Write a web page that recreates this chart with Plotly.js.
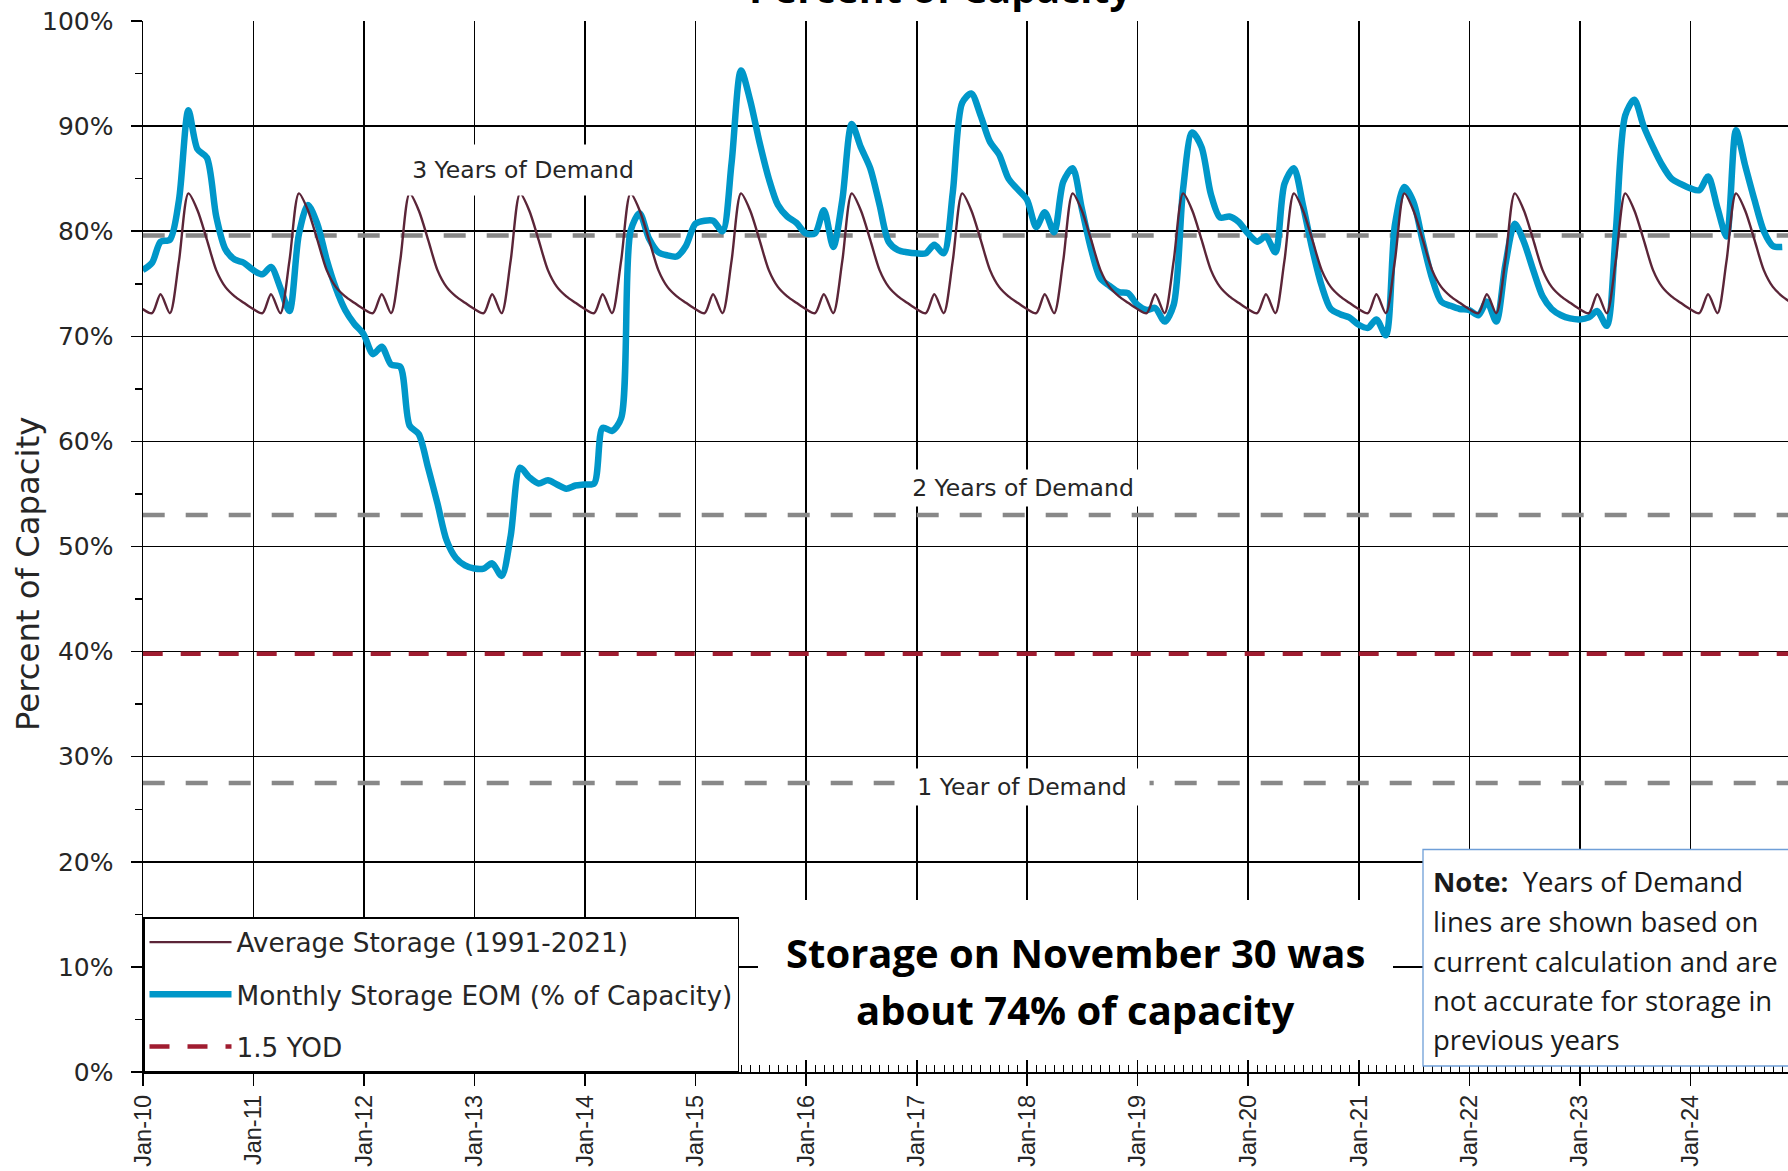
<!DOCTYPE html>
<html>
<head>
<meta charset="utf-8">
<script src="https://cdn.plot.ly/plotly-3.0.1.min.js"></script>
<style>
  html, body { margin: 0; padding: 0; background: #fff; }
  #chart { width: 1788px; height: 1171px; }
</style>
</head>
<body>
<div id="chart"></div>
<script>
// ---------------- DATA ----------------
// Average storage (1991-2021), end-of-month value for Jan..Dec (% of capacity)
const avgMonthLabels = ["Jan","Feb","Mar","Apr","May","Jun","Jul","Aug","Sep","Oct","Nov","Dec"];
const avgByMonth = [72.2, 74.0, 72.2, 77.2, 83.6, 82.0, 79.2, 76.3, 74.7, 73.8, 73.2, 72.6];

// Monthly storage EOM (% of capacity), first value = end of Dec 2009
const storageStart = [2009, 12];
const storage2010 = [76.3, 77.0, 79.0, 79.2, 83.0, 91.5, 87.8, 87.0, 81.4, 78.3, 77.3, 77.0];
const storage2011 = [76.3, 75.9, 76.6, 74.6, 72.4, 79.7, 82.5, 80.7, 77.3, 74.6, 72.5, 71.2];
const storage2012 = [70.2, 68.3, 69.0, 67.3, 67.1, 61.5, 60.7, 57.5, 54.1, 50.6, 48.9, 48.2];
const storage2013 = [47.9, 47.9, 48.4, 47.2, 51.0, 57.5, 56.6, 56.0, 56.3, 55.9, 55.5, 55.8];
const storage2014 = [55.9, 56.0, 61.3, 61.0, 62.2, 80.0, 81.7, 79.3, 78.0, 77.7, 77.6, 78.6];
const storage2015 = [80.7, 81.0, 81.0, 80.0, 86.5, 95.3, 92.5, 88.5, 85.0, 82.5, 81.4, 80.8];
const storage2016 = [79.8, 79.8, 82.0, 78.5, 83.0, 90.2, 88.0, 86.0, 82.5, 79.0, 78.2, 78.0];
const storage2017 = [77.9, 77.9, 78.7, 77.9, 83.7, 92.2, 93.1, 91.0, 88.5, 87.3, 85.0, 84.0];
const storage2018 = [83.0, 80.4, 81.8, 79.9, 84.7, 86.0, 82.2, 78.3, 75.5, 74.8, 74.2, 74.1];
const storage2019 = [73.0, 72.5, 72.7, 71.4, 73.0, 84.0, 89.4, 88.0, 83.5, 81.3, 81.4, 80.9];
const storage2020 = [79.8, 79.0, 79.5, 78.0, 84.5, 86.0, 82.5, 78.3, 74.8, 72.6, 72.1, 71.8];
const storage2021 = [71.1, 70.8, 71.6, 70.1, 80.6, 84.2, 82.8, 79.0, 75.5, 73.3, 72.9, 72.6];
const storage2022 = [72.5, 72.0, 73.3, 71.4, 76.8, 80.7, 79.0, 76.3, 73.8, 72.6, 72.0, 71.7];
const storage2023 = [71.6, 71.8, 72.4, 71.0, 80.0, 91.0, 92.5, 90.0, 88.0, 86.3, 85.0, 84.5];
const storage2024 = [84.1, 83.9, 85.2, 82.2, 79.5, 89.6, 86.3, 83.0, 80.0, 78.6, 78.5];

// Years-of-demand reference levels (% of capacity)
const yod1 = 27.5;
const yod15 = 39.8;
const yod2 = 53.0;
const yod3 = 79.6;

// Axis
const xRange = ["2010-01-01", "2024-11-19"];
const yTickVals = [0, 10, 20, 30, 40, 50, 60, 70, 80, 90, 100];
const yTickText = ["0%", "10%", "20%", "30%", "40%", "50%", "60%", "70%", "80%", "90%", "100%"];

// ---------------- BUILD ----------------
function eom(y, m) { // m: 1..12
  const d = new Date(Date.UTC(y, m, 0));
  return d.toISOString().slice(0, 10);
}
function monthSeq(y, m, n) {
  const out = [];
  for (let i = 0; i < n; i++) {
    out.push(eom(y, m));
    m++; if (m > 12) { m = 1; y++; }
  }
  return out;
}
const storage = [].concat(storage2010, storage2011, storage2012, storage2013, storage2014,
  storage2015, storage2016, storage2017, storage2018, storage2019, storage2020, storage2021,
  storage2022, storage2023, storage2024);
const storageDates = monthSeq(storageStart[0], storageStart[1], storage.length);

const avgDates = monthSeq(2009, 12, 12 * 15 + 1);
const avgVals = avgDates.map(d => avgByMonth[parseInt(d.slice(5, 7), 10) - 1]);

const lineX = [avgDates[0], avgDates[avgDates.length - 1]];

const FONT = "DejaVu Sans";
const TXT = "#262626";

const traces = [
  { x: lineX, y: [yod3, yod3], mode: "lines", showlegend: false, hoverinfo: "skip",
    line: { color: "#888888", width: 4.5, dash: "22px,21px" } },
  { x: lineX, y: [yod2, yod2], mode: "lines", showlegend: false, hoverinfo: "skip",
    line: { color: "#888888", width: 4.5, dash: "22px,21px" } },
  { x: lineX, y: [yod1, yod1], mode: "lines", showlegend: false, hoverinfo: "skip",
    line: { color: "#888888", width: 4.5, dash: "22px,21px" } },
  { x: lineX, y: [yod15, yod15], mode: "lines", name: "1.5 YOD", legendrank: 3, legendgroup: "c",
    line: { color: "#a01c30", width: 4.5, dash: "20px,18px" } },
  { x: storageDates, y: storage, mode: "lines", name: "Monthly Storage EOM (% of Capacity)",
    legendrank: 2, legendgroup: "b",
    line: { color: "#0097c9", width: 6.5, shape: "spline", smoothing: 0.8 } },
  { x: avgDates, y: avgVals, mode: "lines", name: "Average Storage (1991-2021)",
    legendrank: 1, legendgroup: "a",
    line: { color: "#5b2538", width: 2.4, shape: "spline", smoothing: 0.8 } }
];

// plot area in px: left 143, right 1788, top 21, bottom 1072
const PL = 143, PR = 1788, PT = 21, PB = 1072;
const px = v => (v - PL) / (PR - PL);
const py = v => (PB - v) / (PB - PT);

const annotations = [
  // cut-off chart title
  { text: "<b>Percent of Capacity</b>", xref: "paper", yref: "paper", x: px(940), y: py(17),
    xanchor: "center", yanchor: "bottom", showarrow: false,
    font: { family: "Open Sans", size: 39.5, color: "#000" } },
  // y axis title
  { text: "Percent of Capacity", xref: "paper", yref: "paper", x: px(28), y: py(574),
    xanchor: "center", yanchor: "middle", textangle: -90, showarrow: false,
    font: { family: FONT, size: 32.3, color: TXT } },
  { text: "3 Years of Demand", xref: "paper", yref: "paper", x: px(523), y: py(170),
    xanchor: "center", yanchor: "middle", showarrow: false, bgcolor: "#fff", width: 250, height: 48,
    font: { family: FONT, size: 23.5, color: TXT } },
  { text: "2 Years of Demand", xref: "paper", yref: "paper", x: px(1023), y: py(488),
    xanchor: "center", yanchor: "middle", showarrow: false, bgcolor: "#fff", width: 250, height: 34,
    font: { family: FONT, size: 23.5, color: TXT } },
  { text: "1 Year of Demand", xref: "paper", yref: "paper", x: px(1022), y: py(787),
    xanchor: "center", yanchor: "middle", showarrow: false, bgcolor: "#fff", width: 252, height: 34,
    font: { family: FONT, size: 23.5, color: TXT } },
  // central statement
  { text: "<b>Storage on November 30 was</b>", xref: "paper", yref: "paper", x: px(1075), y: py(952),
    xanchor: "center", yanchor: "middle", showarrow: false,
    font: { family: "Open Sans", size: 40, color: "#000" } },
  { text: "<b>about 74% of capacity</b>", xref: "paper", yref: "paper", x: px(1075), y: py(1009),
    xanchor: "center", yanchor: "middle", showarrow: false,
    font: { family: "Open Sans", size: 40, color: "#000" } }
];
const noteLines = ["<b>Note:</b>\u00a0 Years of Demand", "lines are shown based on",
  "current calculation and are", "not accurate for storage in", "previous years"];
const noteY = [881, 921, 961, 1000, 1039];
noteLines.forEach((t, i) => annotations.push({
  text: t, xref: "paper", yref: "paper", x: px(1431), y: py(noteY[i]),
  xanchor: "left", yanchor: "middle", showarrow: false,
  font: { family: "Open Sans", size: 27.5, color: "#1a1a1a" }
}));

const shapes = [
  { type: "rect", xref: "paper", yref: "paper", layer: "above",
    x0: px(758), x1: px(1393), y0: py(1060), y1: py(900),
    fillcolor: "#fff", line: { width: 0 } },
  { type: "rect", xref: "paper", yref: "paper", layer: "above",
    x0: px(1423), x1: 1.2, y0: py(1066), y1: py(849.5),
    fillcolor: "#fff", line: { color: "#6f9fd8", width: 1.3 } }
];

const layout = {
  width: 1788, height: 1171,
  margin: { l: PL, r: 1788 - PR, t: PT, b: 1171 - PB, pad: 0 },
  paper_bgcolor: "#fff", plot_bgcolor: "#fff",
  showlegend: true,
  legend: {
    x: 0, y: 0, xanchor: "left", yanchor: "bottom",
    bgcolor: "#fff", bordercolor: "#000", borderwidth: 1.5,
    font: { family: FONT, size: 26.3, color: TXT },
    itemwidth: 82, traceorder: "grouped", tracegroupgap: 15
  },
  xaxis: {
    type: "date", range: xRange, tick0: "2010-01-01", dtick: "M12", tickformat: "%b-%y",
    tickangle: -90, ticks: "outside", ticklen: 12, tickwidth: 1.5, tickcolor: "#000",
    showgrid: true, gridcolor: "#000", gridwidth: 1.5,
    showline: true, linecolor: "#000", linewidth: 1.5, zeroline: false,
    tickfont: { family: "Liberation Sans", size: 23.5, color: TXT },
    minor: { dtick: "M1", tick0: "2010-01-01", ticks: "inside", ticklen: 7, tickwidth: 1, tickcolor: "#000", showgrid: false }
  },
  yaxis: {
    range: [0, 100], tickmode: "array", tickvals: yTickVals, ticktext: yTickText,
    ticks: "outside", ticklen: 11, tickwidth: 1.5, tickcolor: "#000",
    showgrid: true, gridcolor: "#000", gridwidth: 1.5,
    showline: true, linecolor: "#000", linewidth: 1.5, zeroline: false,
    tickfont: { family: FONT, size: 25, color: TXT },
    ticklabelstandoff: 12,
    minor: { dtick: 5, ticks: "outside", ticklen: 7, tickwidth: 1.5, tickcolor: "#000", showgrid: false }
  },
  annotations: annotations,
  shapes: shapes
};

Plotly.newPlot("chart", traces, layout, { displayModeBar: false, staticPlot: true });
</script>
</body>
</html>
